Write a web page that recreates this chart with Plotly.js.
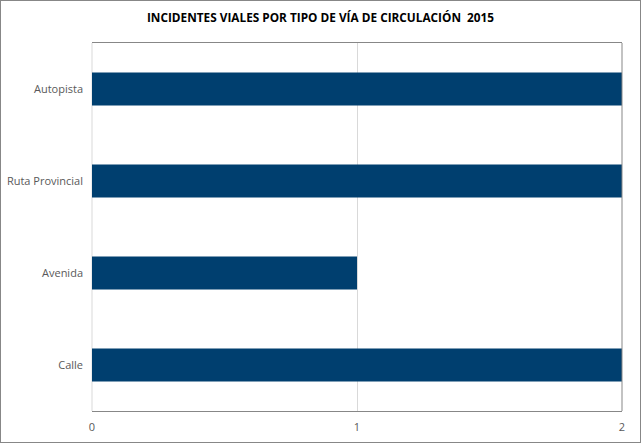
<!DOCTYPE html>
<html>
<head>
<meta charset="utf-8">
<script src="https://cdn.plot.ly/plotly-3.0.1.min.js"></script>
<style>
html,body{margin:0;padding:0;background:#fff;}
#chart{width:639px;height:441px;border:1px solid #878787;}
</style>
</head>
<body>
<div id="chart"></div>
<script>
const categories = ["Calle", "Avenida", "Ruta Provincial", "Autopista"];
const values = [2, 1, 2, 2];
const xTicks = [0, 1, 2];
const titleText = "INCIDENTES VIALES POR TIPO DE VÍA DE CIRCULACIÓN  2015";

const trace = {
  type: "bar",
  orientation: "h",
  y: categories,
  x: values,
  marker: {color: "#003f6f"},
  hoverinfo: "x+y"
};

const layout = {
  width: 639,
  height: 441,
  margin: {l: 91, r: 18, t: 42, b: 31},
  paper_bgcolor: "#ffffff",
  plot_bgcolor: "#ffffff",
  bargap: 0.64,
  showlegend: false,
  font: {family: "Open Sans, Liberation Sans, sans-serif", size: 11, color: "#595959"},
  title: {
    text: "<b>" + titleText + "</b>",
    font: {family: "Open Sans, Liberation Sans, sans-serif", size: 11.8, color: "#000000"},
    x: 0.5, xanchor: "center", y: 0.962, yanchor: "middle"
  },
  xaxis: {
    range: [0, 2],
    tickvals: xTicks,
    ticktext: xTicks.map(String),
    showgrid: true,
    gridcolor: "#d9d9d9",
    gridwidth: 1,
    zeroline: false,
    showline: true,
    mirror: true,
    linecolor: "#878787",
    linewidth: 1,
    ticks: "",
    ticklabelstandoff: 6,
    fixedrange: true
  },
  yaxis: {
    type: "category",
    showgrid: false,
    zeroline: false,
    showline: false,
    ticks: "",
    ticklabelstandoff: 8,
    fixedrange: true
  },
  shapes: [
    {type: "line", xref: "paper", yref: "paper", x0: 0, x1: 0, y0: 0, y1: 1,
     line: {color: "#d9d9d9", width: 1}, layer: "below"},
    {type: "line", xref: "paper", yref: "paper", x0: 1, x1: 1, y0: 0, y1: 1,
     line: {color: "#878787", width: 1}}
  ]
};

Plotly.newPlot("chart", [trace], layout, {displayModeBar: false, staticPlot: true});
</script>
</body>
</html>
